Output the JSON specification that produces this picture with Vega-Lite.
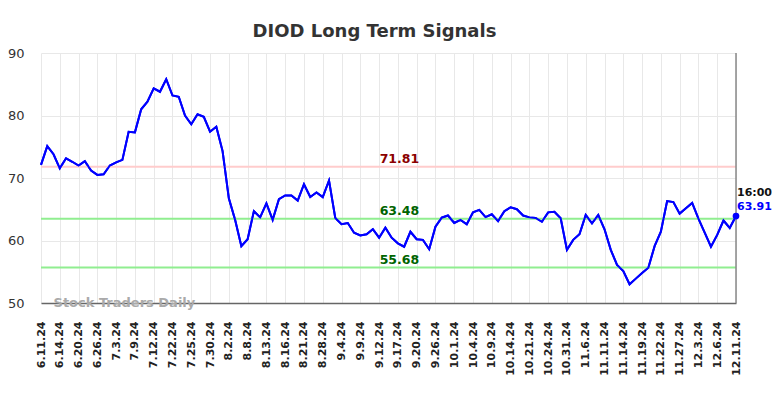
{
  "$schema": "https://vega.github.io/schema/vega-lite/v6.json",
  "width": 695,
  "height": 250,
  "autosize": "none",
  "padding": {"left": 41, "top": 53, "right": 48, "bottom": 95},
  "background": "white",
  "config": {"view": {"stroke": null}, "font": "DejaVu Sans"},
  "title": {"text": "DIOD Long Term Signals", "font": "DejaVu Sans", "fontSize": 18, "fontWeight": "bold", "color": "#333333", "anchor": "middle", "dx": -14, "offset": -8, "baseline": "alphabetic"},
  "datasets": {
    "series": [
      {"date": "6.11.24", "v": 72.1}, {"date": "6.12.24", "v": 75.1}, {"date": "6.13.24", "v": 73.8},
      {"date": "6.14.24", "v": 71.55}, {"date": "6.17.24", "v": 73.15}, {"date": "6.18.24", "v": 72.6},
      {"date": "6.20.24", "v": 72.0}, {"date": "6.21.24", "v": 72.7}, {"date": "6.24.24", "v": 71.2},
      {"date": "6.26.24", "v": 70.5}, {"date": "6.27.24", "v": 70.6}, {"date": "7.1.24", "v": 72.0},
      {"date": "7.3.24", "v": 72.5}, {"date": "7.5.24", "v": 72.9}, {"date": "7.8.24", "v": 77.4},
      {"date": "7.9.24", "v": 77.3}, {"date": "7.10.24", "v": 81.0}, {"date": "7.11.24", "v": 82.2},
      {"date": "7.12.24", "v": 84.35}, {"date": "7.16.24", "v": 83.8}, {"date": "7.18.24", "v": 85.8},
      {"date": "7.22.24", "v": 83.2}, {"date": "7.23.24", "v": 83.0}, {"date": "7.24.24", "v": 80.0},
      {"date": "7.25.24", "v": 78.6}, {"date": "7.26.24", "v": 80.2}, {"date": "7.29.24", "v": 79.8},
      {"date": "7.30.24", "v": 77.4}, {"date": "7.31.24", "v": 78.2}, {"date": "8.1.24", "v": 74.3},
      {"date": "8.2.24", "v": 66.75}, {"date": "8.5.24", "v": 63.3}, {"date": "8.6.24", "v": 59.1},
      {"date": "8.8.24", "v": 60.2}, {"date": "8.9.24", "v": 64.7}, {"date": "8.12.24", "v": 63.7},
      {"date": "8.13.24", "v": 65.95}, {"date": "8.14.24", "v": 63.3}, {"date": "8.15.24", "v": 66.6},
      {"date": "8.16.24", "v": 67.2}, {"date": "8.19.24", "v": 67.2}, {"date": "8.20.24", "v": 66.4},
      {"date": "8.21.24", "v": 69.0}, {"date": "8.23.24", "v": 66.95}, {"date": "8.26.24", "v": 67.7},
      {"date": "8.28.24", "v": 66.95}, {"date": "8.29.24", "v": 69.6}, {"date": "9.3.24", "v": 63.6},
      {"date": "9.4.24", "v": 62.6}, {"date": "9.5.24", "v": 62.8}, {"date": "9.6.24", "v": 61.25},
      {"date": "9.9.24", "v": 60.8}, {"date": "9.10.24", "v": 61.0}, {"date": "9.11.24", "v": 61.8},
      {"date": "9.12.24", "v": 60.45}, {"date": "9.13.24", "v": 62.05}, {"date": "9.16.24", "v": 60.45},
      {"date": "9.17.24", "v": 59.55}, {"date": "9.18.24", "v": 59.0}, {"date": "9.19.24", "v": 61.4},
      {"date": "9.20.24", "v": 60.2}, {"date": "9.23.24", "v": 60.1}, {"date": "9.24.24", "v": 58.6},
      {"date": "9.26.24", "v": 62.2}, {"date": "9.27.24", "v": 63.65}, {"date": "9.30.24", "v": 64.0},
      {"date": "10.1.24", "v": 62.8}, {"date": "10.2.24", "v": 63.3}, {"date": "10.3.24", "v": 62.6},
      {"date": "10.4.24", "v": 64.5}, {"date": "10.7.24", "v": 64.9}, {"date": "10.8.24", "v": 63.75},
      {"date": "10.9.24", "v": 64.2}, {"date": "10.10.24", "v": 63.1}, {"date": "10.11.24", "v": 64.7},
      {"date": "10.14.24", "v": 65.3}, {"date": "10.16.24", "v": 65.0}, {"date": "10.18.24", "v": 64.0},
      {"date": "10.21.24", "v": 63.7}, {"date": "10.22.24", "v": 63.6}, {"date": "10.23.24", "v": 63.0},
      {"date": "10.24.24", "v": 64.5}, {"date": "10.28.24", "v": 64.6}, {"date": "10.29.24", "v": 63.55},
      {"date": "10.31.24", "v": 58.5}, {"date": "11.1.24", "v": 60.1}, {"date": "11.4.24", "v": 61.0},
      {"date": "11.6.24", "v": 64.1}, {"date": "11.7.24", "v": 62.75}, {"date": "11.8.24", "v": 64.1},
      {"date": "11.11.24", "v": 61.8}, {"date": "11.12.24", "v": 58.5}, {"date": "11.13.24", "v": 56.1},
      {"date": "11.14.24", "v": 55.1}, {"date": "11.15.24", "v": 53.0}, {"date": "11.18.24", "v": 53.9},
      {"date": "11.19.24", "v": 54.8}, {"date": "11.20.24", "v": 55.65}, {"date": "11.21.24", "v": 59.1},
      {"date": "11.22.24", "v": 61.4}, {"date": "11.25.24", "v": 66.3}, {"date": "11.26.24", "v": 66.15},
      {"date": "11.27.24", "v": 64.3}, {"date": "11.29.24", "v": 65.15}, {"date": "12.2.24", "v": 66.0},
      {"date": "12.3.24", "v": 63.5}, {"date": "12.4.24", "v": 61.25}, {"date": "12.5.24", "v": 59.0},
      {"date": "12.6.24", "v": 60.9}, {"date": "12.9.24", "v": 63.2}, {"date": "12.10.24", "v": 62.0},
      {"date": "12.11.24", "v": 63.91, "time": "16:00"}
    ],
    "levels": [
      {"level": "resistance", "value": 71.81},
      {"level": "middle", "value": 63.48},
      {"level": "support", "value": 55.68}
    ],
    "watermark": [
      {"date": "6.13.24", "v": 50, "label": "Stock Traders Daily"}
    ]
  },
  "layer": [
    {
      "data": {"name": "series"},
      "mark": {"type": "line", "color": "#0000ff", "strokeWidth": 2},
      "encoding": {
        "x": {
          "field": "date", "type": "ordinal", "sort": null,
          "scale": {"type": "point", "padding": 0},
          "axis": {
            "values": ["6.11.24","6.14.24","6.20.24","6.26.24","7.3.24","7.9.24","7.12.24","7.22.24","7.25.24","7.30.24","8.2.24","8.8.24","8.13.24","8.16.24","8.21.24","8.28.24","9.4.24","9.9.24","9.12.24","9.17.24","9.20.24","9.26.24","10.1.24","10.4.24","10.9.24","10.14.24","10.21.24","10.24.24","10.31.24","11.6.24","11.11.24","11.14.24","11.19.24","11.22.24","11.27.24","12.3.24","12.6.24","12.11.24"],
            "title": null, "labelAngle": -90, "labelFont": "DejaVu Sans", "labelFontSize": 11, "labelFontWeight": "bold", "labelColor": "#222222",
            "ticks": false, "labelPadding": 18, "labelOverlap": false, "labelBound": false,
            "domain": true, "domainColor": "#666666", "domainWidth": 1.5,
            "grid": true, "gridColor": "#e8e8e8", "gridWidth": 1
          }
        },
        "y": {
          "field": "v", "type": "quantitative",
          "scale": {"domain": [50, 90], "nice": false, "zero": false},
          "axis": {"values": [50, 60, 70, 80, 90], "title": null, "domain": false, "ticks": false, "labelPadding": 17, "labelFont": "DejaVu Sans", "labelFontSize": 13, "labelColor": "#333333", "grid": true, "gridColor": "#e8e8e8", "gridWidth": 1}
        }
      }
    },
    {
      "data": {"name": "levels"},
      "mark": {"type": "rule", "strokeWidth": 2},
      "encoding": {
        "y": {"field": "value", "type": "quantitative"},
        "stroke": {"field": "level", "type": "nominal", "scale": {"domain": ["resistance", "middle", "support"], "range": ["#ffcccc", "#90ee90", "#90ee90"]}, "legend": null}
      }
    },
    {
      "data": {"name": "series"},
      "mark": {"type": "line", "color": "#0000ff", "strokeWidth": 2},
      "encoding": {
        "x": {"field": "date", "type": "ordinal", "sort": null},
        "y": {"field": "v", "type": "quantitative"}
      }
    },
    {
      "data": {"name": "levels"},
      "mark": {"type": "text", "font": "DejaVu Sans", "fontSize": 12.5, "fontWeight": "bold", "align": "center", "baseline": "alphabetic", "dx": 1.5, "dy": -4},
      "encoding": {
        "x": {"datum": "9.17.24", "type": "ordinal"},
        "y": {"field": "value", "type": "quantitative"},
        "text": {"field": "value", "type": "quantitative", "format": ".2f"},
        "fill": {"field": "level", "type": "nominal", "scale": {"domain": ["resistance", "middle", "support"], "range": ["#8b0000", "#006400", "#006400"]}, "legend": null}
      }
    },
    {
      "data": {"name": "series"},
      "transform": [{"filter": "datum.time != null"}],
      "mark": {"type": "rule", "color": "#888888", "strokeWidth": 1.5},
      "encoding": {
        "x": {"field": "date", "type": "ordinal", "sort": null}
      }
    },
    {
      "data": {"name": "series"},
      "transform": [{"filter": "datum.time != null"}],
      "mark": {"type": "circle", "color": "#0000ff", "size": 45, "opacity": 1},
      "encoding": {
        "x": {"field": "date", "type": "ordinal", "sort": null},
        "y": {"field": "v", "type": "quantitative"}
      }
    },
    {
      "data": {"name": "series"},
      "transform": [{"filter": "datum.time != null"}],
      "mark": {"type": "text", "font": "DejaVu Sans", "fontSize": 11, "fontWeight": "bold", "align": "left", "baseline": "alphabetic", "dx": 1, "dy": -20, "color": "#111111"},
      "encoding": {
        "x": {"field": "date", "type": "ordinal", "sort": null},
        "y": {"field": "v", "type": "quantitative"},
        "text": {"field": "time"}
      }
    },
    {
      "data": {"name": "series"},
      "transform": [{"filter": "datum.time != null"}],
      "mark": {"type": "text", "font": "DejaVu Sans", "fontSize": 11, "fontWeight": "bold", "align": "left", "baseline": "alphabetic", "dx": 1, "dy": -6, "color": "#0000ff"},
      "encoding": {
        "x": {"field": "date", "type": "ordinal", "sort": null},
        "y": {"field": "v", "type": "quantitative"},
        "text": {"field": "v", "type": "quantitative", "format": ".2f"}
      }
    },
    {
      "data": {"name": "watermark"},
      "mark": {"type": "text", "font": "DejaVu Sans", "fontSize": 13, "fontWeight": "bold", "align": "left", "baseline": "alphabetic", "dy": 3.5, "color": "#aaaaaa"},
      "encoding": {
        "x": {"field": "date", "type": "ordinal", "sort": null},
        "y": {"field": "v", "type": "quantitative"},
        "text": {"field": "label"}
      }
    }
  ]
}
